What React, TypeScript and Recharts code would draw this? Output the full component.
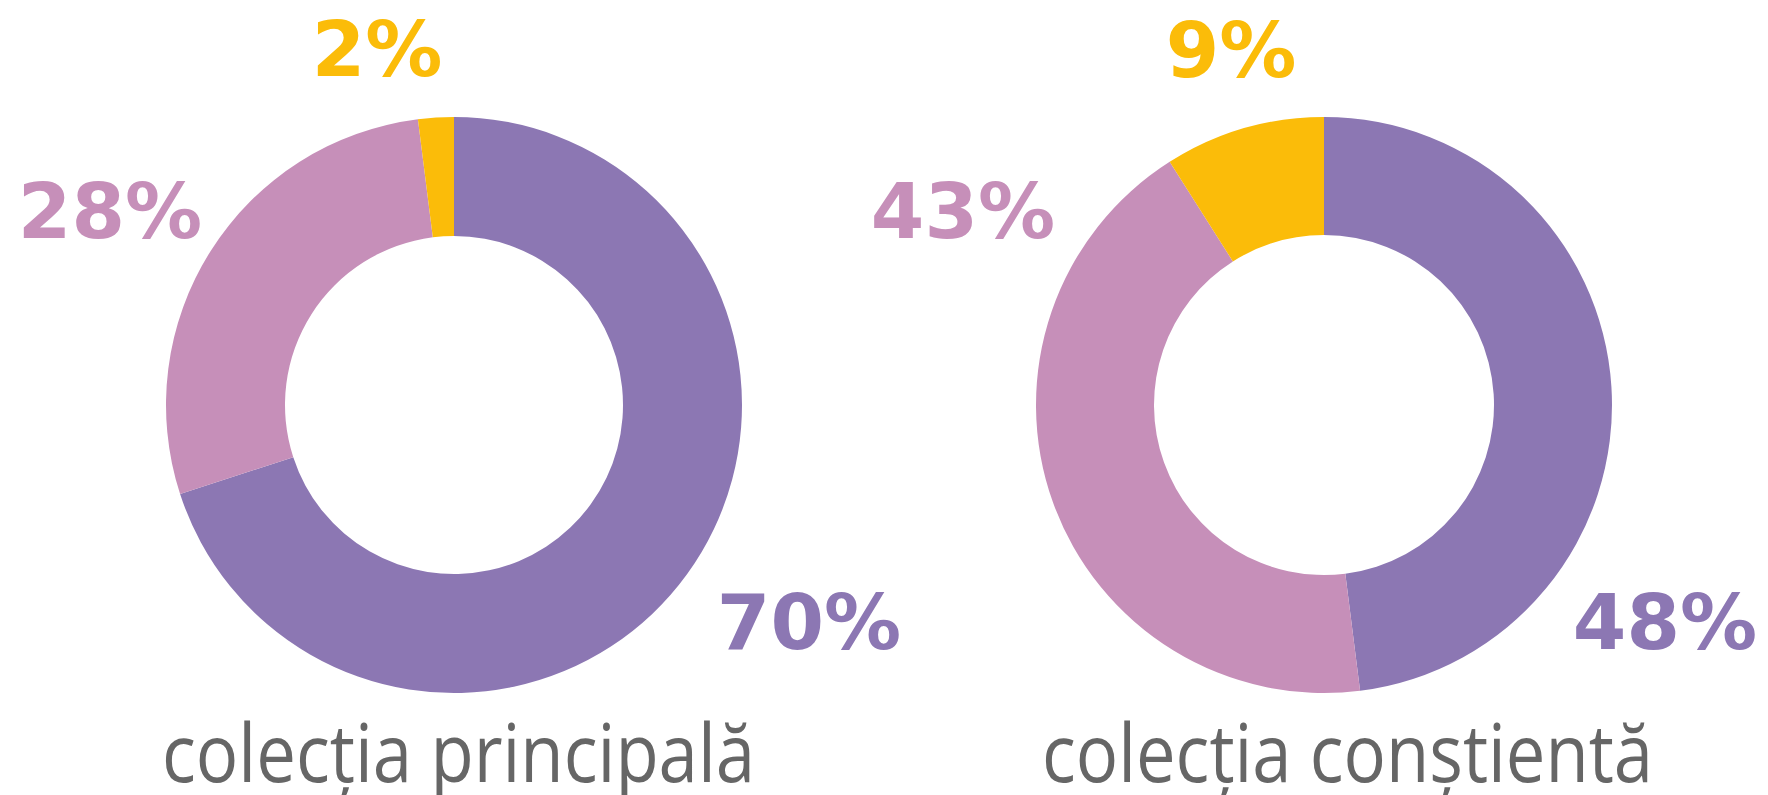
import React from "react";
import { PieChart, Pie, Cell } from "recharts";

const categories = ["mov", "roz", "galben"];
const principalaValues = [70, 28, 2];
const constientaValues = [48, 43, 9];
const principalaLabels = ["70%", "28%", "2%"];
const constientaLabels = ["48%", "43%", "9%"];
const titles = ["colecția principală", "colecția conștientă"];

const COLORS = ["#8C77B3", "#C68FB9", "#FBBC09"];

const W = 1768;
const H = 795;

const principalaData = categories.map((c, i) => ({ name: c, value: principalaValues[i], label: principalaLabels[i] }));
const constientaData = categories.map((c, i) => ({ name: c, value: constientaValues[i], label: constientaLabels[i] }));

// label anchor offsets (layout) relative to each donut centre
const LEFT_OFFSETS = [
  [355, 216],
  [-344, -195],
  [-77, -357],
];
const RIGHT_OFFSETS = [
  [341, 216],
  [-361, -195],
  [-93, -356],
];

const makeLabel = (offsets: number[][]) => (props: any) => {
  const { cx, cy, index, payload } = props;
  const [dx, dy] = offsets[index];
  return (
    <text
      x={cx + dx}
      y={cy + dy + 28}
      textAnchor="middle"
      fill={COLORS[index]}
      fontFamily="DejaVu Sans"
      fontWeight="bold"
      fontSize={77}
    >
      {payload.label}
    </text>
  );
};

export default function App() {
  return (
    <div style={{ position: "absolute", left: 0, top: 0, width: W, height: H, background: "#fff", overflow: "hidden" }}>
      <PieChart width={W} height={H} margin={{ top: 0, right: 0, bottom: 0, left: 0 }}>
        <Pie
          data={principalaData}
          dataKey="value"
          cx={454}
          cy={405}
          innerRadius={169}
          outerRadius={288}
          startAngle={90}
          endAngle={-270}
          stroke="none"
          isAnimationActive={false}
          labelLine={false}
          label={makeLabel(LEFT_OFFSETS)}
        >
          {principalaData.map((d, i) => (
            <Cell key={d.name} fill={COLORS[i]} />
          ))}
        </Pie>
        <Pie
          data={constientaData}
          dataKey="value"
          cx={1324}
          cy={405}
          innerRadius={170}
          outerRadius={288}
          startAngle={90}
          endAngle={-270}
          stroke="none"
          isAnimationActive={false}
          labelLine={false}
          label={makeLabel(RIGHT_OFFSETS)}
        >
          {constientaData.map((d, i) => (
            <Cell key={d.name} fill={COLORS[i]} />
          ))}
        </Pie>
      </PieChart>
      <svg width={W} height={H} style={{ position: "absolute", left: 0, top: 0, pointerEvents: "none" }}>
        <text
          x={162}
          y={782}
          fill="#666666"
          fontFamily="Open Sans"
          fontSize={80}
          textLength={593}
          lengthAdjust="spacingAndGlyphs"
        >
          {titles[0]}
        </text>
        <text
          x={1042}
          y={782}
          fill="#666666"
          fontFamily="Open Sans"
          fontSize={80}
          textLength={611}
          lengthAdjust="spacingAndGlyphs"
        >
          {titles[1]}
        </text>
      </svg>
    </div>
  );
}
